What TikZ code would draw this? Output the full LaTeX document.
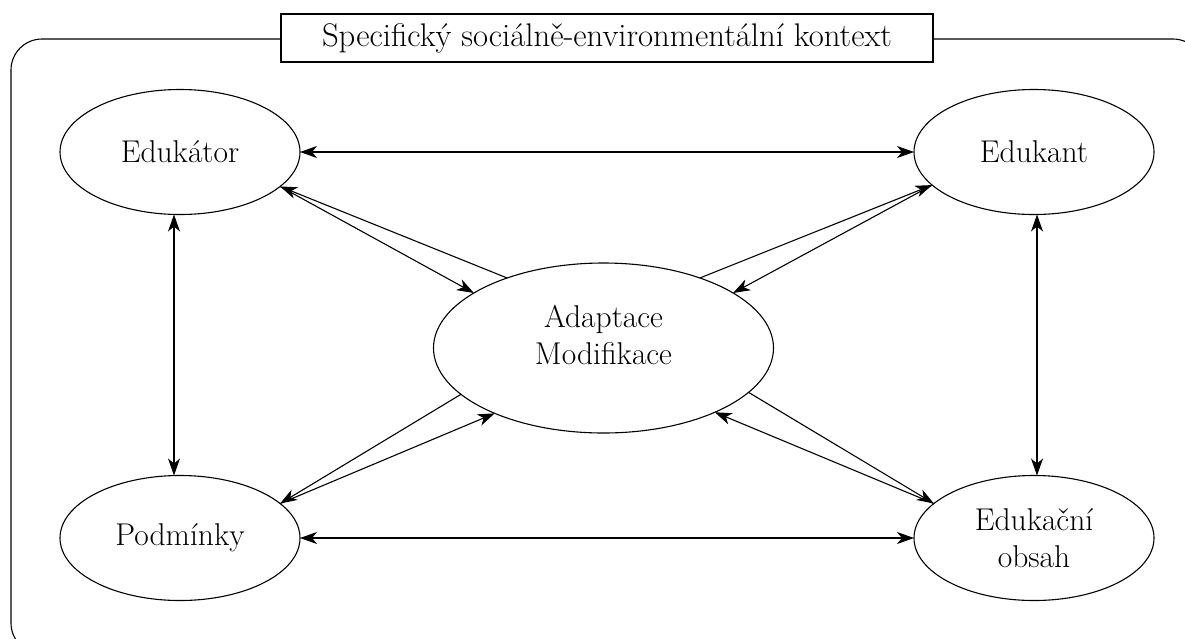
\documentclass[tikz,border=0pt]{standalone}
\usepackage{fontspec}
\usetikzlibrary{arrows.meta,shapes.geometric}
\begin{document}
\begin{tikzpicture}[x=1pt,y=-1pt,
  every node/.style={font=\fontsize{31.5}{37}\selectfont},
  entity/.style={draw,ellipse,line width=1.1pt,inner sep=0pt,outer sep=0pt,
    minimum width=240pt,minimum height=125pt,align=center},
  link/.style={line width=1.1pt,-{Stealth[length=17pt,width=12pt,inset=5pt]}},
  dlink/.style={line width=1.1pt,{Stealth[length=17pt,width=12pt,inset=5pt]}-{Stealth[length=17pt,width=12pt,inset=5pt]}},
  frame/.style={draw,line width=1.1pt,rounded corners=31pt},
  titlebox/.style={draw,fill=white,line width=1.1pt,minimum width=652pt,minimum height=48pt,inner sep=0pt,
    font=\fontsize{32.7}{37}\selectfont}]
  \useasboundingbox (0,0) rectangle (1185,638);

  % surrounding context frame, running past the page edge on the right and bottom
  \begin{scope}
    \clip (0,0) rectangle (1185,638);
    \draw[frame] (11,39) rectangle (1204,654);
  \end{scope}
  \node[titlebox] (ctx) at (607,38) {Specifický sociálně-environmentální kontext};

  % the five elements
  \node[entity] (edr) at (180,152) {Edukátor};
  \node[entity] (edt) at (1034,152) {Edukant};
  \node[entity] (pod) at (180,538) {Podmínky};
  \node[entity] (obs) at (1034,538) {Edukační\\obsah};
  \node[entity,minimum width=340pt,minimum height=170pt] (ada) at (603.5,348) {};
  \node[align=center] (adtext) at (603.5,335) {Adaptace\\Modifikace};

  % outer relations
  \draw[dlink] (edr.east) -- (edt.west);
  \draw[dlink] (pod.east) -- (obs.west);
  \draw[dlink] ([xshift=-6pt]edr.south) -- ([xshift=-6pt]pod.north);
  \draw[dlink] ([xshift=3pt]edt.south) -- ([xshift=3pt]obs.north);

  % relations through adaptation / modification
  \draw[link] (ada.144) -- (edr.-19);
  \draw[link] (edr.-19) -- (ada.157);
  \draw[link] (ada.36) -- (edt.-162);
  \draw[link] (edt.-162) -- (ada.23);
  \draw[link] (ada.-162.6) -- (pod.19.4);
  \draw[link] (pod.19.4) -- (ada.-149.5);
  \draw[link] (ada.-17.3) -- (obs.161);
  \draw[link] (obs.161) -- (ada.-30.6);
\end{tikzpicture}
\end{document}
